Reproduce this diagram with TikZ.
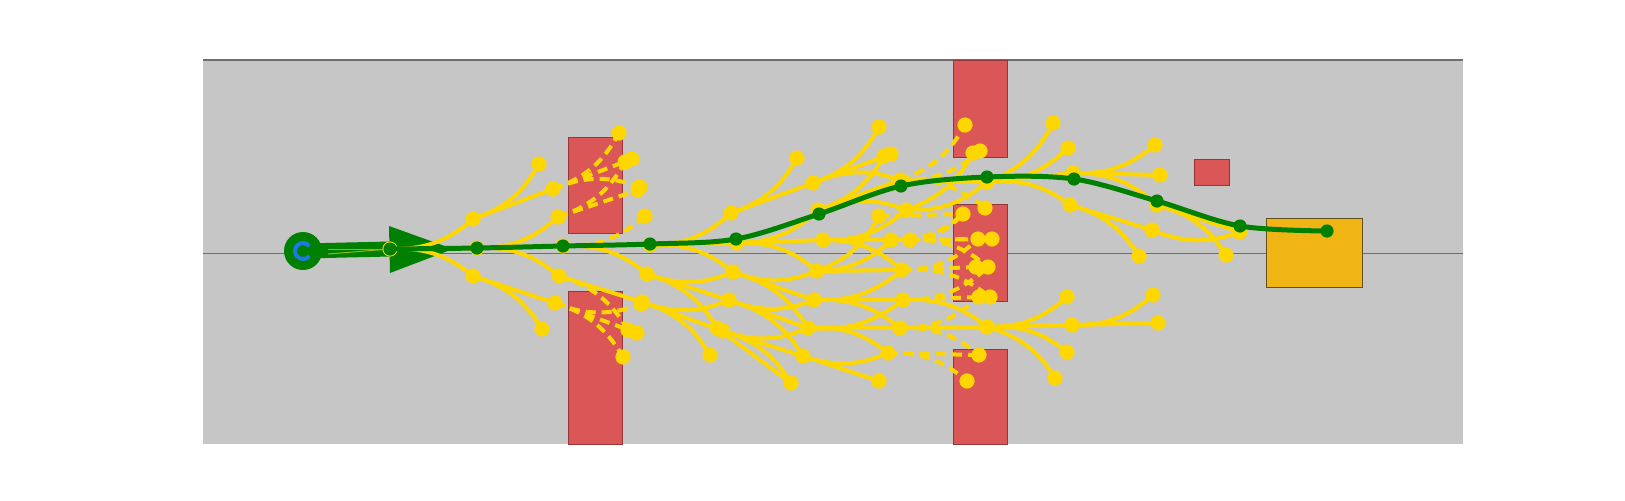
\documentclass[tikz,border=0pt]{standalone}
\usetikzlibrary{calc}
\definecolor{bggray}{RGB}{198,198,198}
\definecolor{obsred}{RGB}{219,87,87}
\definecolor{obsedge}{RGB}{150,55,55}
\definecolor{goalc}{RGB}{240,181,21}
\definecolor{goaledge}{RGB}{100,80,30}
\definecolor{trajy}{RGB}{255,215,0}
\definecolor{pathg}{RGB}{0,128,0}
\definecolor{startb}{RGB}{30,120,230}
\definecolor{linegray}{RGB}{110,110,110}
\tikzset{
  traj/.style={draw=trajy, line width=2pt},
  coll/.style={draw=trajy, line width=2pt, dash pattern=on 5pt off 3pt},
  obst/.style={fill=obsred, draw=obsedge, line width=0.5pt},
  goalbox/.style={fill=goalc, draw=goaledge, line width=0.5pt},
  greenpath/.style={draw=pathg, line width=2.5pt},
}
\newcommand{\trU}[3][traj]{\path[#1] (#2) to[bend right=21] (#3);}
\newcommand{\trS}[3][traj]{\path[#1] (#2) -- (#3);}
\newcommand{\trD}[3][traj]{\path[#1] (#2) to[bend left=21] (#3);}
\begin{document}
\begin{tikzpicture}[x=0.5pt,y=0.5pt]
\useasboundingbox (0,0) rectangle (1625,-500);
% road
\fill[bggray] (203,-60) rectangle (1463,-444);
\draw[linegray, line width=0.5pt] (203,-253) -- (1463,-253);
\draw[linegray, line width=0.6pt] (203,-60) -- (1463,-60);
% obstacles
\draw[obst] (568,-137) rectangle (622,-233);
\draw[obst] (568,-291) rectangle (622,-444);
\draw[obst] (953,-60) rectangle (1007,-157);
\draw[obst] (953,-204) rectangle (1007,-301);
\draw[obst] (953,-349) rectangle (1007,-444);
\draw[obst] (1194,-159) rectangle (1229,-185);
\draw[goalbox] (1266,-218) rectangle (1362,-287);
% start pose
\coordinate (S) at (303,-251);
\coordinate (T1) at (389,-226);
\coordinate (T2) at (390,-273);
\coordinate (T3) at (453,-249);
% tree nodes
\foreach \n/\x/\y in {
 n1y/390/249, a1/473/219, n2y/477/248, b1/473/276,
 a11/539/164, a12/553/189, c2u/558/217, n3y/563/246, c2d/559/276, b11/555/303, b12/542/329,
 d1/619/133, d2/632/159, d3/640/187, d4/625/162, d5/638/190, d6/645/216,
 n4y/650/245, c3a/647/274, c3b/642/302, d7/628/330, d8/641/304, d9/637/333, d10/623/357,
 e1/731/213, n5y/737/243, e2/733/272, e3/729/300, e4/717/328, e4p/723/331, e5/710/355,
 f1/797/158, f2/813/183, n6y/818/210, f4/823/240, f5/817/271, f6/814/300, f8/808/328, f9/803/356, f10/791/383,
 g1/879/127, g2/891/154, g2b/884/156, n7y/900/180, g3/906/210, g4/879/216, g5/891/240, g6/910/240,
 g7/902/270, g8/903/300, g9/900/328, g10/888/353, g11/879/381,
 h1/965/125, h2/980/151, h2b/973/153, n8y/987/182, h3/985/208,
 m1/963/214, m2/978/239, m3/992/239, m4/976/267, m5/988/267, m6/979/297, m7/990/297,
 h5/987/327, h6/979/355, h7/967/381,
 j1/1053/123, j2/1068/148, n9y/1073/173, j3/1070/205,
 i1/1067/297, i2/1072/325, i3/1067/352, i4/1055/378,
 k1/1155/145, k2/1160/175, n10y/1157/205, k3/1152/230, k4/1139/256, k5/1153/295, k6/1158/323,
 l1/1226/255, n11y/1240/232}
 {\coordinate (\n) at (\x,-\y);}
% green path nodes
\foreach \n/\x/\y in {G1/390/249, G2/477/248, G3/563/246, G4/650/244, G5/736/239, G6/819/214,
 G7/901/186, G8/987/177, G9/1074/179, G10/1157/201, G11/1240/226, G12/1327/231}
 {\coordinate (\n) at (\x,-\y);}
% start heading bar and arrow
\draw[pathg, line width=7.5pt] (S) -- (G1);
\fill[pathg] (T1) -- (T2) -- (T3) -- cycle;
\draw[trajy!60!pathg, line width=0.5pt] ($(S)+(25,2)$) -- (G1);
\draw[trajy!60!pathg, line width=0.5pt] ($(S)+(25,-3)$) -- (G1);
\fill[pathg] (S) circle[radius=9.5pt];
\draw[startb, line width=2pt] ($(S)+(38:4pt)$) arc[start angle=38, end angle=322, radius=4pt];
% ---- tree edges ----
\trU{n1y}{a1} \trS{n1y}{n2y} \trD{n1y}{b1}
\trU{a1}{a11} \trS{a1}{a12}
\trU{n2y}{c2u} \trS{n2y}{n3y} \trD{n2y}{c2d}
\trS{b1}{b11} \trD{b1}{b12}
\trU[coll]{a12}{d1} \trS[coll]{a12}{d2} \trD[coll]{a12}{d3}
\trU[coll]{c2u}{d4} \trS[coll]{c2u}{d5}
\trU[coll]{n3y}{d6} \trS{n3y}{n4y} \trD{n3y}{c3a}
\trS{c2d}{c3b} \trD[coll]{c2d}{d7}
\trU[coll]{b11}{d8} \trS[coll]{b11}{d9} \trD[coll]{b11}{d10}
\trU{n4y}{e1} \trS{n4y}{n5y} \trD{n4y}{e2}
\trU{c3a}{e2} \trS{c3a}{e3} \trD{c3a}{e4}
\trU{c3b}{e3} \trS{c3b}{e4p} \trD{c3b}{e5}
\trU{e1}{f1} \trS{e1}{f2}
\trU{n5y}{n6y} \trS{n5y}{f4} \trD{n5y}{f5}
\trU{e2}{f5} \trS{e2}{f6} \trD{e2}{f8}
\trU{e3}{f6} \trS{e3}{f8} \trD{e3}{f9}
\trU{e4p}{f8} \trS{e4p}{f9} \trD{e4p}{f10}
\trS{e4}{f10}
\trU{f2}{g1} \trS{f2}{g2} \trD{f2}{n7y}
\trU{n6y}{g2b} \trS{n6y}{n7y} \trD{n6y}{g3}
\trU{f4}{g3} \trS{f4}{g6} \trD{f4}{g7}
\trU{f5}{g4} \trU{f5}{g5} \trS{f5}{g7}
\trU{f6}{g7} \trS{f6}{g8} \trD{f6}{g9}
\trU{f8}{g8} \trS{f8}{g9} \trD{f8}{g10}
\trU{f9}{g10} \trS{f9}{g11}
\trU[coll]{n7y}{h1} \trU[coll]{n7y}{h2} \trS{n7y}{n8y} \trD[coll]{n7y}{h3}
\trU{g3}{h2b} \trU{g3}{n8y}
\trS[coll]{g4}{m1}
\trU[coll]{g6}{m1} \trU[coll]{g5}{m1}
\trS[coll]{g5}{m2} \trU[coll]{g7}{m2}
\trS[coll]{g6}{m3} \trD[coll]{g6}{m5}
\trS[coll]{g7}{m4} \trD[coll]{g7}{m7}
\trU[coll]{g8}{m5} \trS[coll]{g8}{m6} \trD{g8}{h5} \trU[coll]{g9}{m6}
\trS{g9}{h5} \trD[coll]{g9}{h6}
\trS[coll]{g10}{h6} \trD[coll]{g10}{h7}
\trU{h5}{i1} \trS{h5}{i2} \trD{h5}{i3} \trD{h5}{i4}
\trU{n8y}{j1} \trU{n8y}{j2} \trS{n8y}{n9y} \trD{n8y}{j3}
\trU{n9y}{k1} \trS{n9y}{k2} \trD{n9y}{n10y}
\trS{j3}{k3} \trD{j3}{k4}
\trU{i2}{k5} \trS{i2}{k6}
\trS{n10y}{n11y} \trD{n10y}{l1}
\trU{k3}{n11y}
% ---- tree node dots ----
\foreach \p in {n1y,a1,n2y,b1,a11,a12,c2u,n3y,c2d,b11,b12,d1,d2,d3,d4,d5,d6,n4y,c3a,c3b,d7,d8,d9,d10,
 e1,n5y,e2,e3,e4,e4p,e5,f1,f2,n6y,f4,f5,f6,f8,f9,f10,g1,g2,g2b,n7y,g3,g4,g5,g6,g7,g8,g9,g10,g11,
 h1,h2,h2b,n8y,h3,m1,m2,m3,m4,m5,m6,m7,h5,h6,h7,j1,j2,n9y,j3,i1,i2,i3,i4,k1,k2,n10y,k3,k4,k5,k6,l1,n11y}
 {\fill[trajy] (\p) circle[radius=3.8pt];}
% ---- green path ----
\draw[greenpath] plot[smooth, tension=0.55] coordinates {(G1) (G2) (G3) (G4) (G5) (G6) (G7) (G8) (G9) (G10) (G11) (G12)};
\foreach \p in {G1,G2,G3,G4,G5,G6,G7,G8,G9,G10,G11,G12}
 {\fill[pathg] (\p) circle[radius=3.3pt];}
\end{tikzpicture}
\end{document}
